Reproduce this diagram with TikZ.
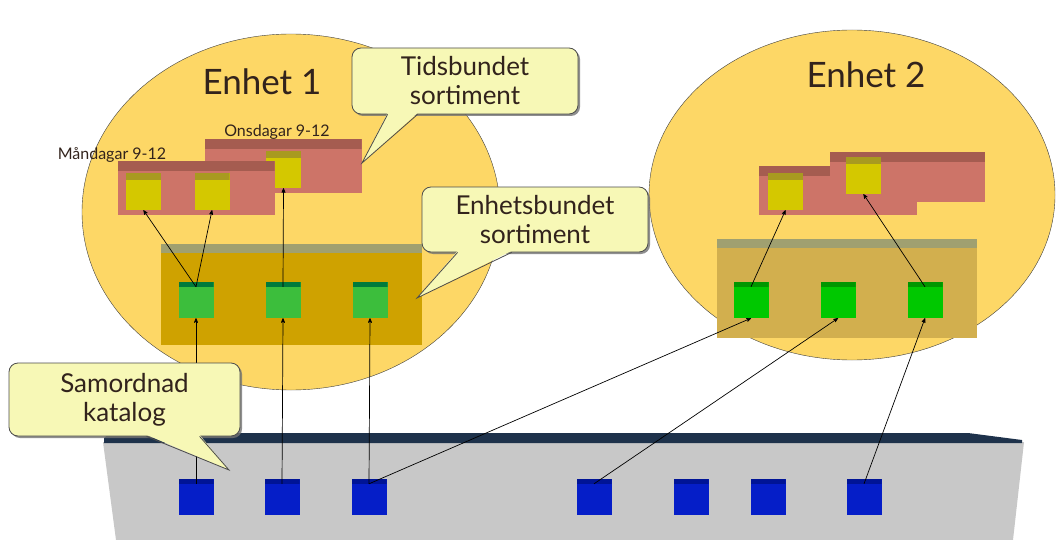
\documentclass[tikz,border=0pt]{standalone}
\usepackage{fontspec}
\setmainfont{Lato}
\usepackage{xcolor}
\usepackage{tikz}
\usetikzlibrary{arrows,shapes.geometric,shadows}

\definecolor{cUnit}{RGB}{253,215,102}
\definecolor{cNote}{RGB}{247,248,182}
\definecolor{cText}{RGB}{50,35,28}
\definecolor{cPink}{RGB}{205,116,104}
\definecolor{cPinkTop}{RGB}{165,92,80}
\definecolor{cYellow}{RGB}{212,200,0}
\definecolor{cYellowTop}{RGB}{168,154,32}
\definecolor{cGreen}{RGB}{60,190,60}
\definecolor{cGreenTop}{RGB}{0,122,60}
\definecolor{cLime}{RGB}{0,200,0}
\definecolor{cLimeTop}{RGB}{0,150,0}
\definecolor{cBlue}{RGB}{5,30,200}
\definecolor{cBlueTop}{RGB}{0,20,150}
\definecolor{cOlive}{RGB}{207,162,0}
\definecolor{cOliveLight}{RGB}{210,175,78}
\definecolor{cRackTop}{RGB}{160,160,112}
\definecolor{cGray}{RGB}{200,200,200}
\definecolor{cBand}{RGB}{30,50,75}

\begin{document}
\begin{tikzpicture}[x=1pt,y=-1pt,>=stealth',
    unit/.style={ellipse,draw=black!75,fill=cUnit,inner sep=0pt},
    box3d/.style 2 args={rectangle,inner sep=0pt,path picture={\fill[#1] (path picture bounding box.north west) rectangle ([yshift=-#2]path picture bounding box.north east);}},
    bluebox/.style={box3d={cBlueTop}{5pt},fill=cBlue,minimum width=35pt,minimum height=36pt},
    greenbox/.style={box3d={cGreenTop}{5pt},fill=cGreen,minimum width=35pt,minimum height=36pt},
    limebox/.style={box3d={cLimeTop}{5pt},fill=cLime,minimum width=35pt,minimum height=36pt},
    yellowbox/.style={box3d={cYellowTop}{7pt},fill=cYellow,minimum width=35pt,minimum height=37pt},
    shelf/.style={box3d={cPinkTop}{10pt},fill=cPink,minimum width=157pt,minimum height=54pt},
    rack/.style={box3d={cRackTop}{9pt},minimum width=261pt,minimum height=101pt},
    title/.style={font=\fontsize{35}{40}\selectfont,text=cText,anchor=base},
    daylabel/.style={font=\fontsize{16}{19}\selectfont,text=cText,anchor=base},
    callout/.style={draw=black!70,fill=cNote,line width=0.8pt,rounded corners=9pt,align=center,
      font=\fontsize{26}{29}\selectfont,text=cText,
      drop shadow={shadow xshift=2pt,shadow yshift=-2pt,fill=black!55,opacity=0.8}},
    tail/.style={draw=black!70,line width=0.8pt},
    link/.style={->,line width=0.7pt}]

    \useasboundingbox (0,0) rectangle (1056,540);

    % units
    \node[unit,minimum width=418pt,minimum height=356pt] (enhet1) at (291,212) {};
    \node[unit,minimum width=406pt,minimum height=330pt] (enhet2) at (852,195) {};
    \node[title] (t1) at (262,95) {Enhet 1};
    \node[title] (t2) at (866,88) {Enhet 2};

    % catalogue
    \fill[cGray] (103,442) -- (1024,442) -- (1013,540) -- (116,540) -- cycle;
    \fill[cBand] (110,433) -- (968,433) -- (1022,440) -- (1022,443) -- (104,443) -- (104,438) -- cycle;

    \node[bluebox] (b1) at (196,497) {};
    \node[bluebox] (b2) at (282,497) {};
    \node[bluebox] (b3) at (369,497) {};
    \node[bluebox] (b4) at (594,497) {};
    \node[bluebox] (b5) at (691,497) {};
    \node[bluebox] (b6) at (768,497) {};
    \node[bluebox] (b7) at (864,497) {};

    % Enhet 1
    \node[rack,fill=cOlive] (r1) at (291.5,294) {};
    \node[greenbox] (g1) at (196,300) {};
    \node[greenbox] (g2) at (283,300) {};
    \node[greenbox] (g3) at (370,300) {};

    \node[shelf] (ons) at (283,166) {};
    \node[yellowbox] (y3) at (283.5,169.5) {};
    \node[shelf] (man) at (196,188) {};
    \node[yellowbox] (y1) at (143.5,191.5) {};
    \node[yellowbox] (y2) at (212,191.5) {};
    \node[daylabel] (manlab) at (112,160) {Måndagar 9-12};
    \node[daylabel] (onslab) at (277,137) {Onsdagar 9-12};

    % Enhet 2
    \node[rack,fill=cOliveLight,minimum width=260pt,minimum height=99pt] (r2) at (847,288.5) {};
    \node[limebox] (h1) at (751,300) {};
    \node[limebox] (h2) at (838,300) {};
    \node[limebox] (h3) at (925,300) {};

    \node[shelf,minimum width=158pt,minimum height=49pt] (s1) at (838,190.5) {};
    \node[yellowbox] (z1) at (785.5,191.5) {};
    \node[shelf,minimum width=155pt,minimum height=50pt] (s2) at (907.5,177) {};
    \node[yellowbox] (z2) at (863.5,175.5) {};

    \path[link]
    ([yshift=-5pt]g1.north) edge (y1.south)
    ([yshift=-5pt]g1.north) edge (y2.south)
    ([yshift=-5pt]g2.north) edge (y3.south)
    ([yshift=-5pt]b1.north) edge (g1.south)
    ([yshift=-5pt]b2.north) edge (g2.south)
    ([yshift=-5pt]b3.north) edge (g3.south)
    ([yshift=-5pt]b3.north) edge (h1.south)
    ([yshift=-5pt]b4.north) edge (h2.south)
    ([yshift=-5pt]b7.north) edge (h3.south)
    ([yshift=-5pt]h1.north) edge (z1.south)
    ([yshift=-5pt]h3.north) edge (z2.south);

    % callouts
    \node[callout,minimum width=226pt,minimum height=66pt] (tids) at (465,81) {Tidsbundet\\sortiment};
    \coordinate (tidstip) at (362,163);
    \fill[cNote] ([xshift=36pt,yshift=1.5pt]tids.south west) -- (tidstip) -- ([xshift=66pt,yshift=1.5pt]tids.south west) -- cycle;
    \draw[tail] ([xshift=36pt]tids.south west) -- (tidstip) -- ([xshift=66pt]tids.south west);

    \node[callout,minimum width=226pt,minimum height=65pt] (enh) at (535,219.5) {Enhetsbundet\\sortiment};
    \coordinate (enhtip) at (417,298);
    \fill[cNote] ([xshift=36pt,yshift=1.5pt]enh.south west) -- (enhtip) -- ([xshift=90pt,yshift=1.5pt]enh.south west) -- cycle;
    \draw[tail] ([xshift=36pt]enh.south west) -- (enhtip) -- ([xshift=90pt]enh.south west);

    \node[callout,minimum width=231pt,minimum height=73pt] (sam) at (124.5,399.5) {Samordnad\\katalog};
    \coordinate (samtip) at (229,470);
    \fill[cNote] ([xshift=138pt,yshift=1.5pt]sam.south west) -- (samtip) -- ([xshift=191pt,yshift=1.5pt]sam.south west) -- cycle;
    \draw[tail] ([xshift=138pt]sam.south west) -- (samtip) -- ([xshift=191pt]sam.south west);
  \end{tikzpicture}
\end{document}
